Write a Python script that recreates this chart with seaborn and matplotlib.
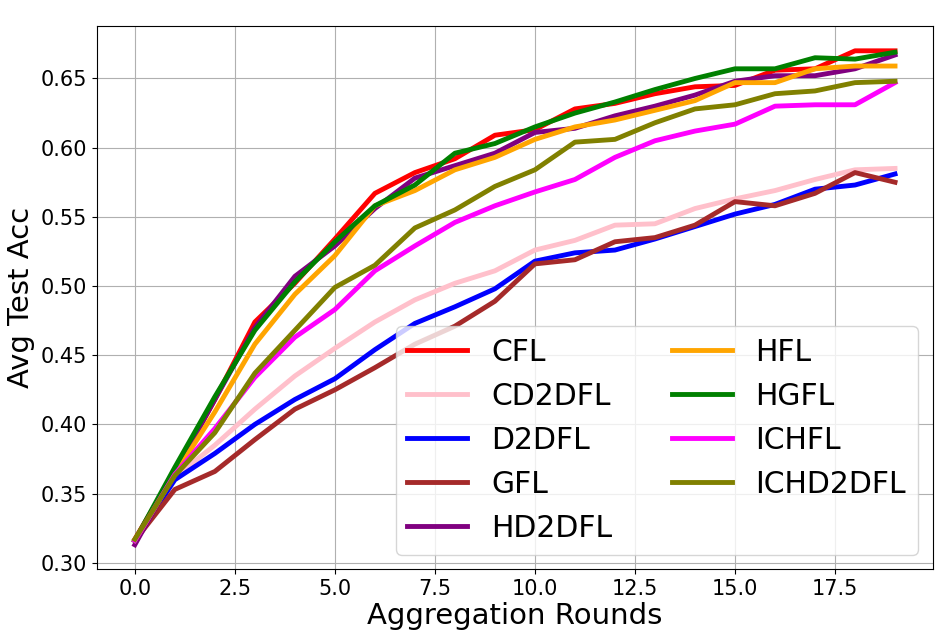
import matplotlib
matplotlib.use("Agg")
import matplotlib.pyplot as plt
import seaborn as sns
import pandas as pd

rounds = list(range(20))

CFL = [0.317, 0.366, 0.418, 0.474, 0.502, 0.534, 0.567, 0.582, 0.592, 0.609,
       0.613, 0.628, 0.632, 0.639, 0.644, 0.645, 0.656, 0.657, 0.670, 0.670]
CD2DFL = [0.316, 0.362, 0.385, 0.411, 0.435, 0.455, 0.474, 0.490, 0.502, 0.511,
          0.526, 0.533, 0.544, 0.545, 0.556, 0.563, 0.569, 0.577, 0.584, 0.585]
D2DFL = [0.316, 0.360, 0.379, 0.400, 0.418, 0.433, 0.454, 0.473, 0.485, 0.498,
         0.518, 0.524, 0.526, 0.534, 0.543, 0.552, 0.559, 0.570, 0.573, 0.581]
GFL = [0.316, 0.353, 0.366, 0.389, 0.411, 0.425, 0.441, 0.458, 0.471, 0.489,
       0.516, 0.519, 0.532, 0.535, 0.544, 0.561, 0.558, 0.567, 0.582, 0.575]
HD2DFL = [0.313, 0.365, 0.418, 0.470, 0.507, 0.529, 0.556, 0.578, 0.587, 0.596,
          0.611, 0.614, 0.623, 0.630, 0.638, 0.648, 0.652, 0.652, 0.657, 0.667]
HFL = [0.316, 0.364, 0.409, 0.458, 0.494, 0.522, 0.558, 0.569, 0.584, 0.593,
       0.606, 0.615, 0.620, 0.627, 0.634, 0.647, 0.647, 0.657, 0.659, 0.659]
HGFL = [0.316, 0.369, 0.420, 0.468, 0.503, 0.532, 0.558, 0.573, 0.596, 0.603,
        0.615, 0.625, 0.633, 0.642, 0.650, 0.657, 0.657, 0.665, 0.664, 0.669]
ICHFL = [0.316, 0.364, 0.397, 0.434, 0.463, 0.483, 0.511, 0.529, 0.546, 0.558,
         0.568, 0.577, 0.593, 0.605, 0.612, 0.617, 0.630, 0.631, 0.631, 0.647]
ICHD2DFL = [0.317, 0.363, 0.394, 0.437, 0.468, 0.499, 0.515, 0.542, 0.555, 0.572,
            0.584, 0.604, 0.606, 0.618, 0.628, 0.631, 0.639, 0.641, 0.647, 0.648]

names = ["CFL", "CD2DFL", "D2DFL", "GFL", "HD2DFL", "HFL", "HGFL", "ICHFL", "ICHD2DFL"]
series = [CFL, CD2DFL, D2DFL, GFL, HD2DFL, HFL, HGFL, ICHFL, ICHD2DFL]
colors = ["red", "pink", "blue", "brown", "purple", "orange", "green", "magenta", "olive"]

fig, ax = plt.subplots(figsize=(9.4, 6.37), dpi=100)
fig.subplots_adjust(left=0.103, right=0.9926, top=0.959, bottom=0.106)

for name, vals, c in zip(names, series, colors):
    df = pd.DataFrame({"round": rounds, "acc": vals})
    sns.lineplot(data=df, x="round", y="acc", color=c, linewidth=3.5, label=name, ax=ax)

ax.grid(True, color="#b0b0b0", linewidth=0.8)
ax.set_axisbelow(True)
ax.set_xlabel("Aggregation Rounds", fontsize=21, labelpad=2)
ax.set_ylabel("Avg Test Acc", fontsize=21)
ax.tick_params(axis="both", labelsize=15)
ax.legend(ncol=2, fontsize=21.5, loc="lower right", labelspacing=0.5)

fig.savefig("out.png", dpi=100)
